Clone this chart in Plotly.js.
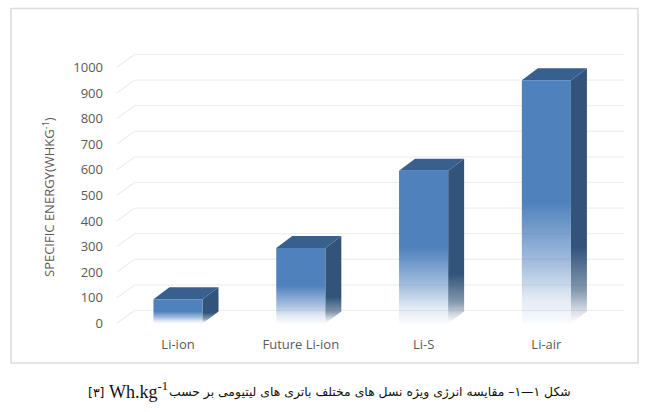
<!DOCTYPE html>
<html>
<head>
<meta charset="utf-8">
<script src="https://cdn.plot.ly/plotly-3.0.1.min.js"></script>
<style>
html, body { margin: 0; padding: 0; background: #fff; }
</style>
</head>
<body>
<div id="plotElement" style="width:650px;height:412px"></div>
<script>
const categories = ["Li-ion", "Future Li-ion", "Li-S", "Li-air"];
const energyValues = [95, 295, 597, 950];
const tickValues = [0, 100, 200, 300, 400, 500, 600, 700, 800, 900, 1000];

// fake 3d offsets, in axis units
const halfWidth = 0.2;
const barDepthX = 0.13, barDepthY = 47;
const floorDepthX = 0.147, floorDepthY = 51;

function fade(rgb, stops) {
    return stops.map(s => [s[0], `rgba(${rgb},${s[1]})`]);
}
const frontFade = [[0, 0.03], [0.1, 0.16], [0.24, 0.5], [0.5, 1], [1, 1]];
const sideFade = [[0, 0], [0.05, 0.2], [0.13, 0.6], [0.3, 1], [1, 1]];

function face(x, y, extra) {
    return Object.assign({
        x: x, y: y, type: "scatter", mode: "lines", fill: "toself",
        line: { width: 0 }, hoverinfo: "skip", showlegend: false, cliponaxis: false
    }, extra);
}

const traces = [];

// back wall gridlines with the little diagonal on the left
for (const t of tickValues) {
    traces.push({
        x: [-0.5, -0.5 + floorDepthX, 3.5 + floorDepthX],
        y: [t, t + floorDepthY, t + floorDepthY],
        type: "scatter", mode: "lines", line: { color: "#efefef", width: 1.3 },
        hoverinfo: "skip", showlegend: false, cliponaxis: false
    });
}

energyValues.forEach((v, i) => {
    const l = i - halfWidth, r = i + halfWidth;
    // right side
    traces.push(face(
        [r, r + barDepthX, r + barDepthX, r, r],
        [0, barDepthY, v + barDepthY, v, 0],
        { fillgradient: { type: "vertical", colorscale: fade("50,84,122", sideFade) } }
    ));
    // top
    traces.push(face(
        [l, r, r + barDepthX, l + barDepthX, l],
        [v, v, v + barDepthY, v + barDepthY, v],
        { fillcolor: "#38608f" }
    ));
    // front
    traces.push(face(
        [l, r, r, l, l],
        [0, 0, v, v, 0],
        { fillgradient: { type: "vertical", colorscale: fade("79,129,189", frontFade) } }
    ));
});

const captionY = -59 / 293;

const layout = {
    width: 650,
    height: 412,
    margin: { l: 116, r: 26, t: 40, b: 79 },
    paper_bgcolor: "#fff",
    plot_bgcolor: "rgba(0,0,0,0)",
    font: { family: "'Open Sans', sans-serif", size: 13, color: "#595959" },
    showlegend: false,
    xaxis: {
        range: [-0.505, 3.632],
        tickvals: categories.map((c, i) => i),
        ticktext: categories,
        showgrid: false, zeroline: false, showline: false, ticks: "",
        ticklabelstandoff: 2
    },
    yaxis: {
        range: [-37, 1107.5],
        tickvals: tickValues,
        showgrid: false, zeroline: false, showline: false, ticks: "",
        ticklabelstandoff: 12
    },
    shapes: [{
        type: "rect", xref: "paper", yref: "paper",
        x0: -105 / 508, x1: 522 / 508, y0: -30 / 293, y1: 324.5 / 293,
        line: { color: "#dcdcdc", width: 1.5 }, layer: "below"
    }],
    annotations: [{
        xref: "paper", yref: "paper", x: -68 / 508, y: 136 / 293,
        xanchor: "center", yanchor: "middle",
        text: "SPECIFIC ENERGY(WHKG<sup>-1</sup>)", textangle: -90,
        showarrow: false, font: { size: 13, color: "#595959" }
    }, {
        xref: "paper", yref: "paper", x: 457 / 508, y: captionY,
        xanchor: "right", yanchor: "middle",
        text: "\u202Bشکل ۱—۱– مقایسه انرژی ویژه نسل های مختلف باتری های لیتیومی بر حسب",
        showarrow: false, font: { family: "'DejaVu Sans'", size: 12.4, color: "#111" }
    }, {
        xref: "paper", yref: "paper", x: -9 / 508, y: captionY + 1.5 / 293,
        xanchor: "left", yanchor: "middle",
        text: "Wh.kg<sup>-1</sup>",
        showarrow: false, font: { family: "'Liberation Serif', serif", size: 18, color: "#111" }
    }, {
        xref: "paper", yref: "paper", x: -30 / 508, y: captionY,
        xanchor: "left", yanchor: "middle",
        text: "\u202B[۳]",
        showarrow: false, font: { family: "'DejaVu Sans'", size: 12.5, color: "#111" }
    }]
};

Plotly.newPlot("plotElement", traces, layout, { displayModeBar: false, staticPlot: true });
</script>
</body>
</html>
